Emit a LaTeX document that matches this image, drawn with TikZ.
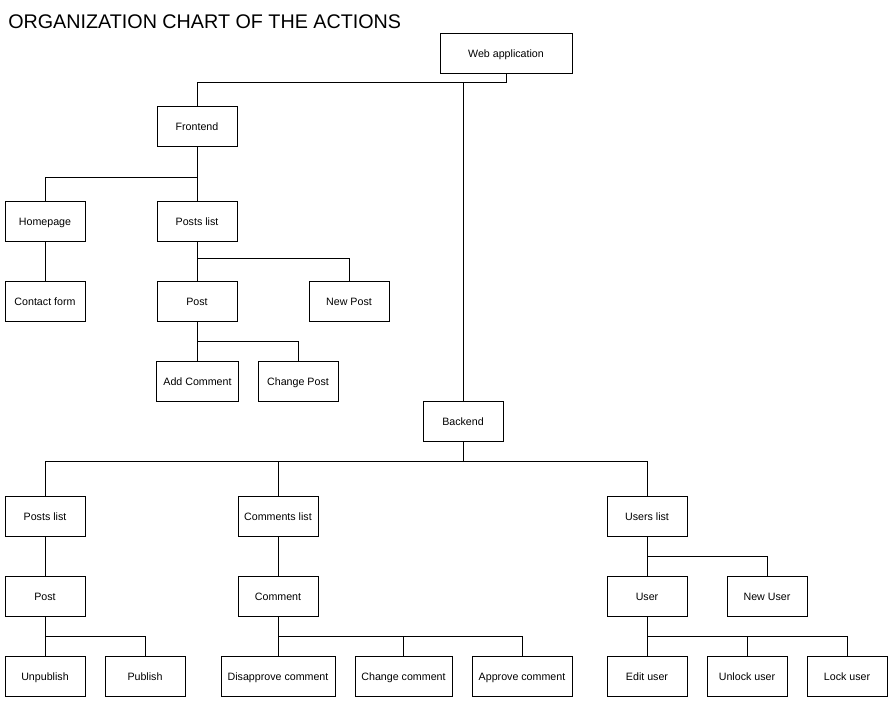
\documentclass[tikz,border=0pt]{standalone}
\usepackage{fontspec}
\setmainfont{Liberation Sans}
\usetikzlibrary{positioning,calc}

\begin{document}
\begin{tikzpicture}[
  x=0.75pt, y=-0.75pt,
  box/.style={draw=black, line width=0.75pt, minimum width=60pt, minimum height=30pt,
    inner sep=2pt, align=center, text height=1.5ex, text depth=0.3ex,
    font=\fontsize{8}{9.6}\selectfont},
  widebox/.style={box, minimum width=#1},
  link/.style={draw=black, line width=0.75pt}
]
  \useasboundingbox (0,0) rectangle (891,700);

  % Title
  \node[anchor=base west, inner sep=0pt, font=\fontsize{14.8}{18}\selectfont] (title) at (8,28)
    {ORGANIZATION CHART OF THE ACTIONS};

  % Root
  \node[widebox=99pt] (web) at (506,53.5) {Web application};

  % Frontend branch
  \node[box] (front) at (197,126) {Frontend};
  \node[box] (home) at (45,221) {Homepage};
  \node[box] (fplist) at (197,221) {Posts list};
  \node[box] (contact) at (45,301) {Contact form};
  \node[box] (fpost) at (197,301) {Post};
  \node[box] (newpost) at (349,301) {New Post};
  \node[widebox=61pt] (addcom) at (197.5,381) {Add Comment};
  \node[box] (chpost) at (298,381) {Change Post};

  % Backend branch
  \node[box] (back) at (463,421) {Backend};
  \node[box] (bplist) at (45,516) {Posts list};
  \node[box] (clist) at (278,516) {Comments list};
  \node[box] (ulist) at (647,516) {Users list};
  \node[box] (bpost) at (45,596) {Post};
  \node[box] (comment) at (278,596) {Comment};
  \node[box] (user) at (647,596) {User};
  \node[box] (newuser) at (767,596) {New User};
  \node[box] (unpub) at (45,676) {Unpublish};
  \node[box] (pub) at (145,676) {Publish};
  \node[widebox=85.5pt] (disapp) at (278,676) {Disapprove comment};
  \node[widebox=72.75pt] (chcom) at (403.5,676) {Change comment};
  \node[widebox=75pt] (approve) at (522,676) {Approve comment};
  \node[box] (edituser) at (647,676) {Edit user};
  \node[box] (unlock) at (747,676) {Unlock user};
  \node[box] (lock) at (847,676) {Lock user};

  % Root connectors
  \draw[link] (web.south) -- ++(0,8) -| (front.north);
  \draw[link] (back.north) -- (back.north |- {$(web.south)+(0,8)$});

  % Frontend connectors
  \draw[link] (front.south) -- ++(0,31) -| (home.north);
  \draw[link] (front.south) -- (fplist.north);
  \draw[link] (home.south) -- (contact.north);
  \draw[link] (fplist.south) -- ++(0,17) -| (newpost.north);
  \draw[link] (fplist.south) -- (fpost.north);
  \draw[link] (fpost.south) -- ++(0,20) -| (chpost.north);
  \draw[link] (fpost.south) -- (addcom.north -| fpost.south);

  % Backend connectors
  \draw[link] (back.south) -- ++(0,20) -| (bplist.north);
  \draw[link] (back.south) -- ++(0,20) -| (ulist.north);
  \draw[link] (clist.north) -- ++(0,-35);
  \draw[link] (bplist.south) -- (bpost.north);
  \draw[link] (clist.south) -- (comment.north);
  \draw[link] (ulist.south) -- ++(0,20) -| (newuser.north);
  \draw[link] (ulist.south) -- (user.north);
  \draw[link] (bpost.south) -- ++(0,20) -| (pub.north);
  \draw[link] (bpost.south) -- (unpub.north);
  \draw[link] (comment.south) -- ++(0,20) -| (approve.north);
  \draw[link] (comment.south) -- (disapp.north);
  \draw[link] (chcom.north) -- ++(0,-20);
  \draw[link] (user.south) -- ++(0,20) -| (lock.north);
  \draw[link] (user.south) -- (edituser.north);
  \draw[link] (unlock.north) -- ++(0,-20);
\end{tikzpicture}
\end{document}
